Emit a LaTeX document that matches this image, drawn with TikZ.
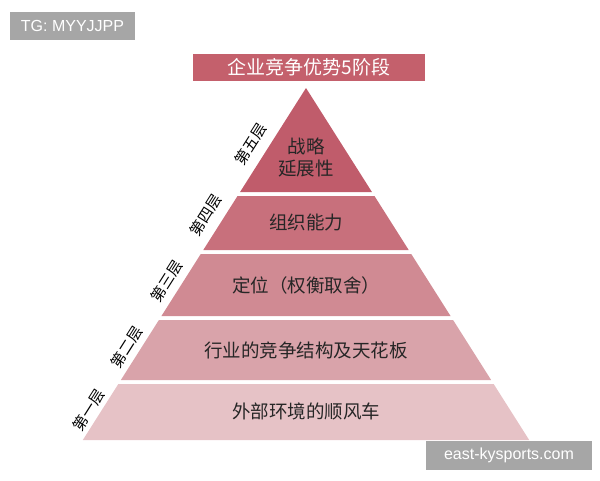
\documentclass[tikz,border=0pt]{standalone}
\usepackage{fontspec}
\newfontfamily\cjk{Noto Sans CJK SC}
\setsansfont{Liberation Sans}
\definecolor{c5}{HTML}{C05C6B}
\definecolor{c4}{HTML}{C8707C}
\definecolor{c3}{HTML}{D08A93}
\definecolor{c2}{HTML}{D9A3AA}
\definecolor{c1}{HTML}{E6C2C6}
\definecolor{wm}{HTML}{A6A6A6}
\definecolor{tt}{HTML}{C4606C}
\begin{document}
\begin{tikzpicture}[x=1pt,y=-1pt,
 lab/.style={font=\cjk\fontsize{18.5}{22}\selectfont,text=black!85,align=center},
 side/.style={font=\cjk\fontsize{15}{17}\selectfont,rotate=57.6,text=black,inner sep=0pt},
 wmbox/.style={fill=wm,text=white,font=\sffamily\fontsize{16}{18}\selectfont,inner sep=0pt}]
\useasboundingbox (0,0) rectangle (600,480);
\def\band#1#2#3{%
 \pgfmathsetmacro{\ha}{(#1-88)*0.634}\pgfmathsetmacro{\hb}{(#2-88)*0.634}%
 \fill[#3] (306-\ha,#1) -- (306+\ha,#1) -- (306+\hb,#2) -- (306-\hb,#2) -- cycle;}
\band{88}{192}{c5}
\band{196}{250}{c4}
\band{254}{316}{c3}
\band{320}{380}{c2}
\band{384}{440}{c1}
\node[fill=tt,minimum width=232,minimum height=27,inner sep=0,text=white,font=\cjk\fontsize{19}{22}\selectfont] (title) at (309,67) {企业竞争优势5阶段};
\node[lab] (l5) at (306,157) {战略\\延展性};
\node[lab] (l4) at (306,222) {组织能力};
\node[lab] (l3) at (306,285) {定位（权衡取舍）};
\node[lab] (l2) at (306,350) {行业的竞争结构及天花板};
\node[lab] (l1) at (306,411) {外部环境的顺风车};
\node[side] (s5) at (251,144) {第五层};
\node[side] (s4) at (206,215) {第四层};
\node[side] (s3) at (167,281) {第三层};
\node[side] (s2) at (127,347) {第二层};
\node[side] (s1) at (89,410) {第一层};
\node[wmbox,minimum width=125,minimum height=28] (wm1) at (72.5,26) {TG: MYYJJPP};
\node[wmbox,minimum width=166,minimum height=29] (wm2) at (509,455) {east-kysports.com};
\end{tikzpicture}
\end{document}
